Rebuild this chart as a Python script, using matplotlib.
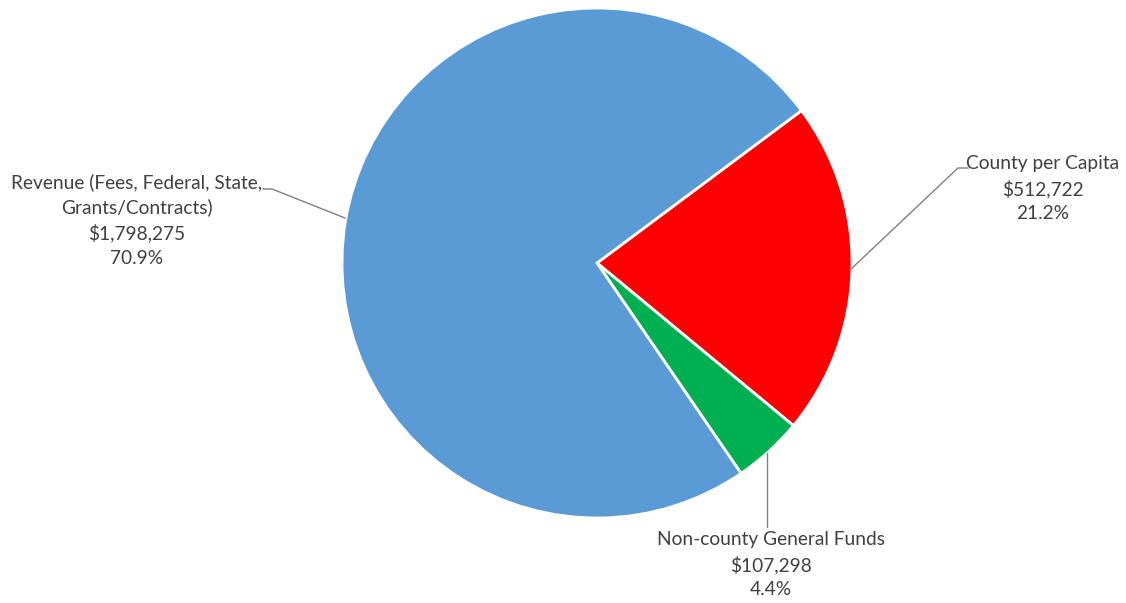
import matplotlib.pyplot as plt

# Funding sources
sources = ['County per Capita', 'Non-county General Funds',
           'Revenue (Fees, Federal, State,\nGrants/Contracts)']
amounts = [512722, 107298, 1798275]
pct_labels = ['21.2%', '4.4%', '70.9%']
colors = ['#FF0000', '#00B050', '#5B9BD5']

W, H = 1126, 603
fig = plt.figure(figsize=(W / 100, H / 100), dpi=100)
ax = fig.add_axes([0, 0, 1, 1])

cx, cy, r = 597, H - 263, 255
ax.pie(amounts, colors=colors, startangle=36.7, counterclock=False,
       center=(cx, cy), radius=r,
       wedgeprops=dict(edgecolor='white', linewidth=2))
ax.set_xlim(0, W)
ax.set_ylim(0, H)
ax.set_aspect('equal')
ax.axis('off')

txt = dict(ha='center', va='top', fontsize=13.8, family='Lato',
           color='#404040', linespacing=1.5)
line = dict(color='#808080', linewidth=1)

def label(i):
    return f"{sources[i]}\n${amounts[i]:,}\n{pct_labels[i]}"

# label positions (top center) and leader lines
ax.text(1043, H - 155, label(0), **txt)
ax.plot([850, 958, 968], [H - 270, H - 168, H - 168], **line)

ax.text(771, H - 531, label(1), **txt)
ax.plot([767, 767], [H - 453, H - 527], **line)

ax.text(137, H - 173, label(2), **txt)
ax.plot([345, 272, 263], [H - 218, H - 189, H - 189], **line)

fig.savefig('out.png', dpi=100)
